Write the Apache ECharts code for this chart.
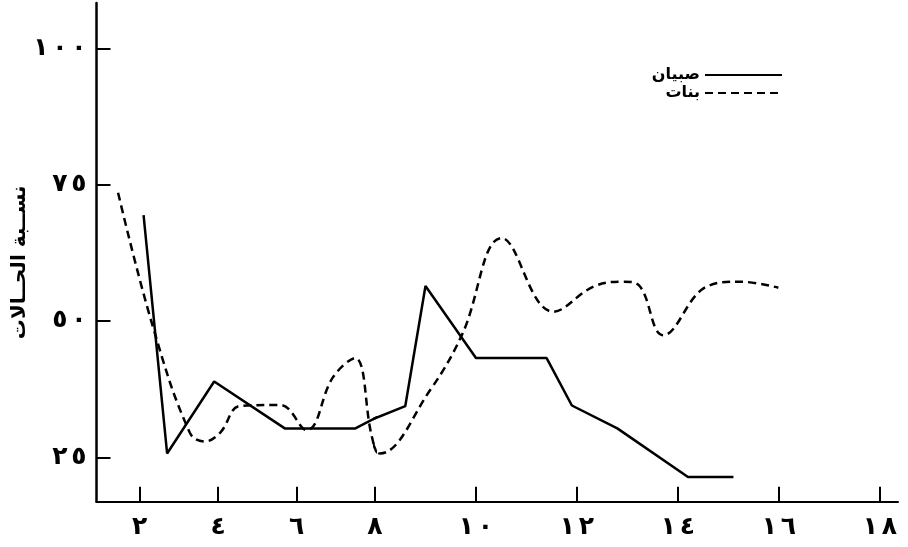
<!DOCTYPE html>
<html>
<head>
<meta charset="utf-8">
<script src="https://cdn.jsdelivr.net/npm/echarts@6/dist/echarts.min.js"></script>
<style>
  html, body { margin: 0; padding: 0; background: #fff; }
  #chart { width: 908px; height: 547px; }
</style>
</head>
<body>
<div id="chart"></div>
<script>
const FONT = 'DejaVu Sans';

// Series names and axis title
const seriesNames = ['صبيان', 'بنات'];
const yAxisTitle = 'نســبة الحــالات';

// Boys (solid line): age, percentage
const boysAge = [2.1, 2.7, 3.9, 5.7, 7.5, 8.6, 9.0, 10.0, 11.4, 11.9, 12.8, 14.2, 15.1];
const boysPct = [69.4, 25.7, 38.9, 30.3, 30.3, 34.4, 56.4, 43.2, 43.2, 34.5, 30.3, 21.4, 21.4];

// Girls (dashed curve): age, percentage
const girlsAge = [1.45, 2.34, 3.28, 3.66, 4.05, 4.56, 5.58, 6.26, 6.93, 7.49, 7.92, 8.1, 9.09, 9.72, 10.51, 11.53, 12.33, 12.92, 13.22, 13.71, 14.57, 15.23, 15.99];
const girlsPct = [73.5, 48.9, 29.5, 27.9, 29.5, 34.4, 34.6, 30.0, 39.7, 43.2, 28.8, 25.7, 37.3, 47.4, 65.2, 51.7, 56.3, 57.2, 56.6, 47.4, 56.3, 57.2, 56.1];

// Tick values and their Arabic-Indic labels
const xTickValues = [2, 4, 6, 8, 10, 12, 14, 16, 18];
const xTickLabels = ['٢', '٤', '٦', '٨', '١٠', '١٢', '١٤', '١٦', '١٨'];
const yTickValues = [25, 50, 75, 100];
const yTickLabels = ['٢٥', '٥٠', '٧٥', '١٠٠'];

// The age axis is drawn in two linear pieces (up to 8, and from 8 on), one grid each.
const pieces = [
  { min: 0.9, max: 8, left: 96.5, width: 278.5 },
  { min: 8, max: 18.36, left: 375, width: 523 }
];
const Y_MIN = 16.86, Y_MAX = 108.3;
const GRID_TOP = 3, GRID_HEIGHT = 498.7;

const ink = '#000';
const labelFont = { fontFamily: FONT, fontWeight: 'bold', color: ink };

// Tick numerals are set digit by digit on a fixed pitch, like the printed figures.
const digitRich = { d: { width: 19, align: 'center', fontSize: 25, ...labelFont } };
const spaced = s => s.split('').map(ch => `{d|${ch}}`).join('');
const xLabel = v => spaced(xTickLabels[xTickValues.indexOf(v)]);
const yLabel = v => spaced(yTickLabels[yTickValues.indexOf(v)]);

const toPairs = (xs, ys) => xs.map((x, i) => [x, ys[i]]);
const boysData = toPairs(boysAge, boysPct);
const girlsData = toPairs(girlsAge, girlsPct);

const grid = pieces.map(p => ({ left: p.left, top: GRID_TOP, width: p.width, height: GRID_HEIGHT }));

const xAxis = pieces.map((p, i) => {
  const ticks = xTickValues.filter(v => i === 0 ? v < p.max : v >= p.min);
  return {
    type: 'value', gridIndex: i, min: p.min, max: p.max,
    splitLine: { show: false },
    axisLine: { show: true, onZero: false, lineStyle: { color: ink, width: 2 } },
    axisTick: { show: true, inside: true, length: 15, customValues: ticks, lineStyle: { color: ink, width: 2 } },
    axisLabel: { show: true, customValues: ticks, formatter: xLabel, margin: 13, rich: digitRich }
  };
});

const yAxis = [
  {
    type: 'value', gridIndex: 0, min: Y_MIN, max: Y_MAX,
    splitLine: { show: false },
    axisLine: { show: true, lineStyle: { color: ink, width: 2.5 } },
    axisTick: { show: true, inside: true, length: 14, customValues: yTickValues, lineStyle: { color: ink, width: 2 } },
    axisLabel: { show: true, customValues: yTickValues, formatter: yLabel, margin: 8, rich: digitRich },
    name: yAxisTitle, nameLocation: 'middle', nameRotate: 90, nameGap: 66,
    nameTextStyle: { fontSize: 20, padding: [0, 20, 0, 0], ...labelFont }
  },
  { type: 'value', gridIndex: 1, min: Y_MIN, max: Y_MAX, show: false }
];

const series = [];
pieces.forEach((p, i) => {
  series.push({
    name: seriesNames[0], type: 'line', xAxisIndex: i, yAxisIndex: i,
    data: boysData, symbol: 'none', clip: true,
    itemStyle: { color: ink },
    lineStyle: { color: ink, width: 2.5, type: 'solid' }
  });
  series.push({
    name: seriesNames[1], type: 'line', xAxisIndex: i, yAxisIndex: i,
    data: girlsData, symbol: 'none', clip: true, smooth: 0.4,
    itemStyle: { color: ink },
    lineStyle: { color: ink, width: 2.5, type: [8, 5] }
  });
});

const chart = echarts.init(document.getElementById('chart'), null, { renderer: 'canvas' });
chart.setOption({
  animation: false,
  backgroundColor: '#fff',
  grid, xAxis, yAxis, series,
  legend: {
    data: seriesNames,
    orient: 'vertical', align: 'right',
    right: 120, top: 62,
    itemWidth: 77, itemHeight: 14, itemGap: 2,
    itemStyle: { opacity: 0 },
    textStyle: { fontSize: 16, ...labelFont }
  }
});
</script>
</body>
</html>
